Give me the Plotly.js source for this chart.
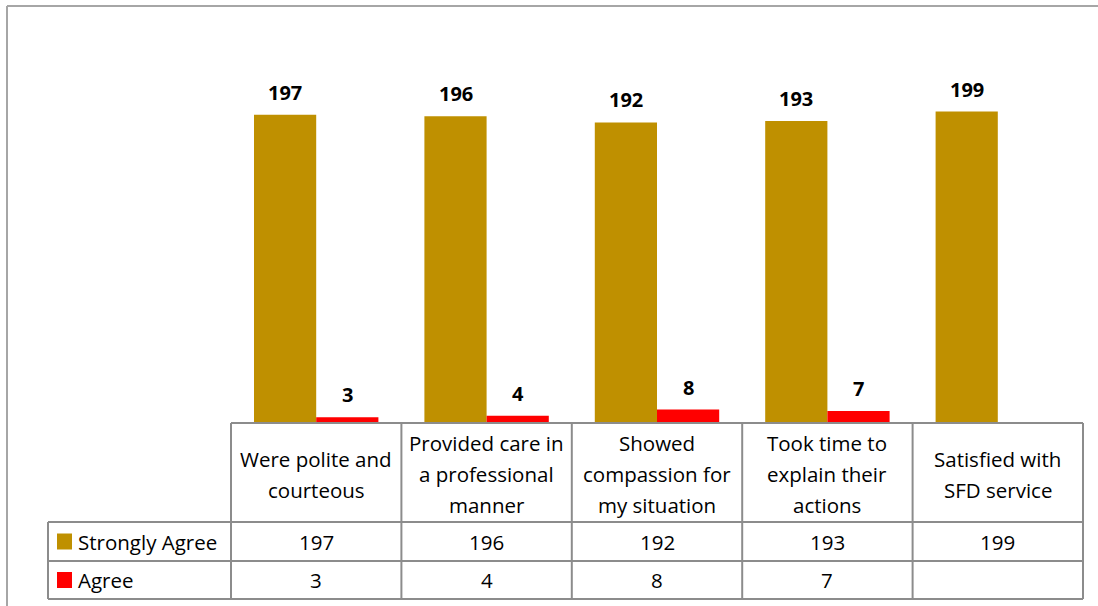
<!DOCTYPE html>
<html>
<head>
<meta charset="utf-8">
<script src="https://cdn.plot.ly/plotly-3.0.1.min.js"></script>
<style>html,body{margin:0;padding:0;background:#fff;}#chart{width:1098px;height:606px;}</style>
</head>
<body>
<div id="chart"></div>
<script>
// ---- data ----
var categories = [
  "Were polite and<br>courteous",
  "Provided care in<br>a professional<br>manner",
  "Showed<br>compassion for<br>my situation",
  "Took time to<br>explain their<br>actions",
  "Satisfied with<br>SFD service"
];
var seriesNames = ["Strongly Agree", "Agree"];
var stronglyAgree = [197, 196, 192, 193, 199];
var agree = [3, 4, 8, 7, null];
var seriesColors = ["#BF9000", "#FF0000"];

// ---- layout helpers (pixel -> paper) ----
var W = 1098, H = 606;
function px(x){ return x / W; }
function py(y){ return 1 - y / H; }

var tableLeft = 231, tableRight = 1083, legendLeft = 48;
var rowTop = 423, rowLabelBottom = 522, row1Bottom = 561, row2Bottom = 599;
var nCat = categories.length;
var colW = (tableRight - tableLeft) / nCat;
var lineColor = "#8C8C8C";
var font = "'Open Sans', Lato, sans-serif";
var fs = 20.5;
var bargap = 0.27;
var barW = (1 - bargap) / 2;

var traces = [
  {type: "bar", name: seriesNames[0], x: categories, y: stronglyAgree,
   marker: {color: seriesColors[0]}, hoverinfo: "none"},
  {type: "bar", name: seriesNames[1], x: categories, y: agree,
   marker: {color: seriesColors[1]}, hoverinfo: "none"}
];

var shapes = [];
var annotations = [];
function hline(x0, x1, y){ shapes.push({type:"line", xref:"paper", yref:"paper", x0:px(x0), x1:px(x1), y0:py(y), y1:py(y), line:{color:lineColor, width:2}}); }
function vline(x, y0, y1){ shapes.push({type:"line", xref:"paper", yref:"paper", x0:px(x), x1:px(x), y0:py(y0), y1:py(y1), line:{color:lineColor, width:2}}); }

// outer frame
shapes.push({type:"line", xref:"paper", yref:"paper", x0:px(7), x1:1, y0:py(6), y1:py(6), line:{color:"#A6A6A6", width:2}});
shapes.push({type:"line", xref:"paper", yref:"paper", x0:px(7), x1:px(7), y0:py(6), y1:0, line:{color:"#A6A6A6", width:2}});

// table grid
hline(tableLeft, tableRight, rowTop);
hline(legendLeft, tableRight, rowLabelBottom);
hline(legendLeft, tableRight, row1Bottom);
hline(legendLeft, tableRight, row2Bottom);
for (var i = 0; i <= nCat; i++) vline(tableLeft + colW * i, rowTop, row2Bottom);
vline(legendLeft, rowLabelBottom, row2Bottom);

// legend keys in table
var rowCenters = [(rowLabelBottom + row1Bottom) / 2, (row1Bottom + row2Bottom) / 2];
for (var s = 0; s < seriesNames.length; s++) {
  var cy = rowCenters[s];
  shapes.push({type:"rect", xref:"paper", yref:"paper", x0:px(57), x1:px(72), y0:py(cy + 8), y1:py(cy - 8), fillcolor:seriesColors[s], line:{width:0}});
  annotations.push({xref:"paper", yref:"paper", x:px(76), y:py(cy), xanchor:"left", yanchor:"middle", text:seriesNames[s], showarrow:false, font:{family:font, size:fs, color:"#000"}});
}

// category labels and values
var labelCenter = 474, lineH = 31;
for (var i = 0; i < nCat; i++) {
  var lines = categories[i].split("<br>");
  for (var k = 0; k < lines.length; k++) {
    var yy = labelCenter + (k - (lines.length - 1) / 2) * lineH;
    annotations.push({xref:"x", yref:"paper", x:i, y:py(yy), xanchor:"center", yanchor:"middle", text:lines[k], showarrow:false, font:{family:font, size:fs, color:"#000"}});
  }
  var vals = [stronglyAgree[i], agree[i]];
  for (var s = 0; s < vals.length; s++) {
    if (vals[s] === null) continue;
    annotations.push({xref:"x", yref:"paper", x:i, y:py(rowCenters[s]), xanchor:"center", yanchor:"middle", text:String(vals[s]), showarrow:false, font:{family:font, size:fs, color:"#000"}});
    // data label above the bar
    annotations.push({xref:"x", yref:"y", x:i + (s === 0 ? -barW / 2 : barW / 2), y:vals[s], xanchor:"center", yanchor:"bottom", yshift:7, text:"<b>" + vals[s] + "</b>", showarrow:false, font:{family:font, size:20, color:"#000"}});
  }
}

var layout = {
  width: W, height: H,
  margin: {l:0, r:0, t:0, b:0},
  paper_bgcolor: "#fff", plot_bgcolor: "#fff",
  barmode: "group", bargap: bargap, bargroupgap: 0,
  showlegend: false,
  xaxis: {domain:[px(tableLeft), px(tableRight)], visible:false, type:"category"},
  yaxis: {domain:[py(422), py(32)], range:[0, 250], visible:false},
  shapes: shapes,
  annotations: annotations
};

Plotly.newPlot("chart", traces, layout, {staticPlot:true});
</script>
</body>
</html>
